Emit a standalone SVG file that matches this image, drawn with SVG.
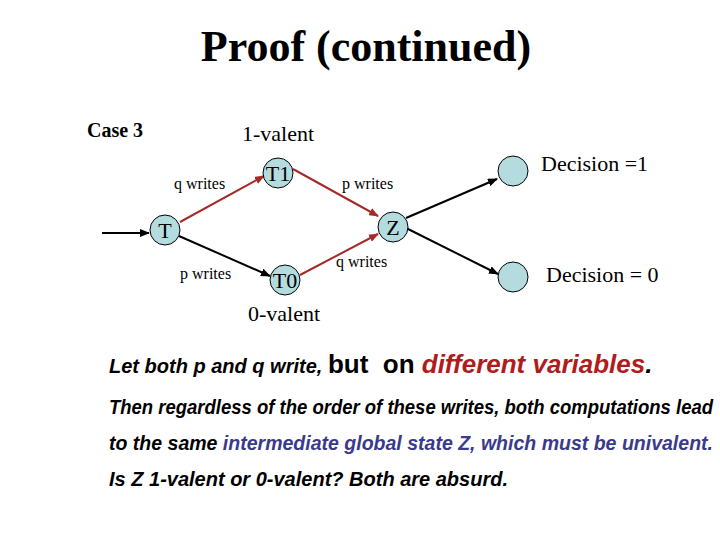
<svg xmlns="http://www.w3.org/2000/svg" width="720" height="540" viewBox="0 0 720 540">
<style>
.s{font-family:"Liberation Serif",serif;fill:#000}
.n{fill:#b4dcdf;stroke:#000;stroke-width:1}
.b{font-family:"Liberation Sans",Arial,sans-serif;font-weight:bold;font-style:italic;font-size:20px}
.blk{stroke:#000;stroke-width:2;fill:none;marker-end:url(#ab)}
.red{stroke:#a52a2a;stroke-width:2;fill:none;marker-end:url(#ar)}
</style>
<defs>
<marker id="ab" markerWidth="10" markerHeight="8" refX="9" refY="4" orient="auto" markerUnits="userSpaceOnUse"><path d="M0,0 L10,4 L0,8 Z" fill="#000"/></marker>
<marker id="ar" markerWidth="10" markerHeight="8" refX="9" refY="4" orient="auto" markerUnits="userSpaceOnUse"><path d="M0,0 L10,4 L0,8 Z" fill="#a52a2a"/></marker>
</defs>
<rect width="720" height="540" fill="#fff"/>
<text class="s" x="366" y="61" font-size="44" font-weight="bold" text-anchor="middle">Proof (continued)</text>
<text class="s" x="87" y="137" font-size="20" font-weight="bold">Case 3</text>
<text class="s" x="242" y="141" font-size="22">1-valent</text>
<text class="s" x="248" y="321" font-size="22">0-valent</text>
<g id="connectors">
<line class="blk" x1="102" y1="233" x2="149" y2="233"/>
<line class="red" x1="180" y1="222" x2="264" y2="176"/>
<line class="red" x1="293" y1="169" x2="378" y2="216"/>
<line class="blk" x1="179" y1="236" x2="270" y2="276"/>
<line class="red" x1="300" y1="275" x2="378" y2="234"/>
<line class="blk" x1="406" y1="218" x2="497" y2="179"/>
<line class="blk" x1="406" y1="228" x2="498" y2="274"/>
<text class="s" x="174" y="189" font-size="16">q writes</text>
<text class="s" x="342" y="189" font-size="16">p writes</text>
<text class="s" x="180" y="279" font-size="16">p writes</text>
<text class="s" x="336" y="267" font-size="16">q writes</text>
</g>
<g id="T"><circle class="n" cx="165" cy="230" r="15"/><text class="s" x="165" y="238" font-size="22" text-anchor="middle">T</text></g>
<g id="T1"><circle class="n" cx="278" cy="173" r="15"/><text class="s" x="278" y="181" font-size="22" text-anchor="middle">T1</text></g>
<g id="T0"><circle class="n" cx="285" cy="280" r="15"/><text class="s" x="285" y="288" font-size="22" text-anchor="middle">T0</text></g>
<g id="Z"><circle class="n" cx="393" cy="227" r="15"/><text class="s" x="393" y="235" font-size="22" text-anchor="middle">Z</text></g>
<g id="D1"><circle class="n" cx="513" cy="171" r="15"/><text class="s" x="541" y="171" font-size="22">Decision =1</text></g>
<g id="D0"><circle class="n" cx="513" cy="277" r="15"/><text class="s" x="546" y="282" font-size="22">Decision = 0</text></g>
<text x="109" y="373" class="b" font-size="17.5px" xml:space="preserve">Let both p and q write, <tspan font-style="normal" font-size="26px">but  on </tspan><tspan fill="#b01c1c" font-size="26px">different variables</tspan><tspan font-size="26px">.</tspan></text>
<text x="109" y="414" class="b" textLength="604" lengthAdjust="spacingAndGlyphs">Then regardless of the order of these writes, both computations lead</text>
<text x="109" y="450" class="b" textLength="604" lengthAdjust="spacingAndGlyphs">to the same <tspan fill="#3a3a8c">intermediate global state Z, which must be univalent.</tspan></text>
<text x="109" y="486" class="b">Is Z 1-valent or 0-valent? Both are absurd.</text>
</svg>
